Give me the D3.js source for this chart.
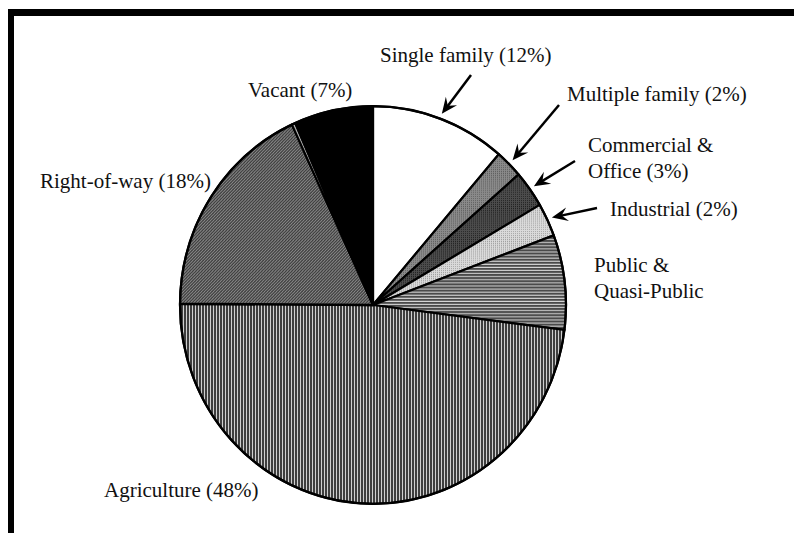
<!DOCTYPE html>
<html lang="en">
<head>
    <meta charset="UTF-8">
    <title>Land use</title>
    <script src="https://d3js.org/d3.v7.min.js"></script>
    <style>
    body{ margin: 0; background: #fff; }
    svg{ display: block; }
    text{ font-family: "Liberation Serif", "Times New Roman", serif; font-size: 21px; fill: #111; }
    </style>
</head>
<body>
    <svg width="794" height="533"></svg>
<script>
    // slice order clockwise from 12 o'clock
    const categories = ["Single family", "Multiple family", "Commercial & Office", "Industrial",
                        "Public & Quasi-Public", "Agriculture", "Right-of-way", "Other", "Vacant"]
    const values = [11.3, 2.3, 3.0, 2.7, 7.7, 48.1, 18.0, 0.3, 6.6]
    // label lines as printed
    const labels = [["Single family (12%)"], ["Multiple family (2%)"], ["Commercial &", "Office (3%)"],
                    ["Industrial (2%)"], ["Public &", "Quasi-Public"], ["Agriculture (48%)"],
                    ["Right-of-way (18%)"], [], ["Vacant (7%)"]]
    const fills = ["#fff", "url(#pMulti)", "url(#pComm)", "url(#pInd)", "url(#pPub)",
                   "url(#pAgri)", "url(#pRow)", "#aaa", "#000"]

    const svg = d3.select("svg")
    const cx = 373, cy = 305, r = 193, sy = 1.03

    // frame: top and left thick rules
    svg.append("rect").attr("x", 8).attr("y", 9).attr("width", 786).attr("height", 7).attr("fill", "#000")
    svg.append("rect").attr("x", 8).attr("y", 9).attr("width", 6).attr("height", 524).attr("fill", "#000")

    const defs = svg.append("defs")
    const pat = (id, w, h, bg, draw) => {
        const p = defs.append("pattern").attr("id", id).attr("patternUnits", "userSpaceOnUse")
            .attr("width", w).attr("height", h)
        p.append("rect").attr("width", w).attr("height", h).attr("fill", bg)
        draw(p)
    }
    pat("pAgri", 3, 3, "#cfcfcf", p => p.append("rect").attr("width", 2).attr("height", 3).attr("fill", "#3e3e3e"))
    pat("pPub", 3, 3, "#d8d8d8", p => p.append("rect").attr("width", 3).attr("height", 2).attr("fill", "#4a4a4a"))
    pat("pRow", 3, 3, "#939393", p => p.append("path").attr("d", "M0,3L3,0M-1,1L1,-1M2,4L4,2").attr("stroke", "#3c3c3c").attr("stroke-width", 1.2))
    pat("pMulti", 2, 2, "#8a8a8a", p => p.append("rect").attr("width", 1).attr("height", 1).attr("fill", "#606060"))
    pat("pComm", 2, 2, "#4c4c4c", p => p.append("rect").attr("width", 1).attr("height", 1).attr("fill", "#222"))
    pat("pInd", 2, 2, "#dadada", p => p.append("rect").attr("width", 1).attr("height", 1).attr("fill", "#a0a0a0"))

    const pie = d3.pie().sort(null).value(d => d)
    const arcs = pie(values)
    const arc = d3.arc().innerRadius(0).outerRadius(r)
    const tipArc = d3.arc().innerRadius(r + 5).outerRadius(r + 5)

    const g = svg.append("g").attr("transform", `translate(${cx},${cy}) scale(1,${sy})`)
    g.selectAll("path.slice").data(arcs).enter().append("path")
        .attr("class", "slice")
        .attr("d", arc)
        .attr("fill", (d, i) => fills[i])
        .attr("stroke", "#000")
        .attr("stroke-width", 2.2)
        .attr("stroke-linejoin", "round")
    g.append("circle").attr("r", r).attr("fill", "none").attr("stroke", "#000").attr("stroke-width", 2.2)

    // label anchor positions (left baseline of first line)
    const labelPos = [[380, 62], [567, 101], [588, 152], [610, 216], [594, 272], [104, 497], [40, 188], null, [248, 97]]
    labels.forEach((lines, i) => {
        if (!labelPos[i]) return
        const t = svg.append("text").attr("x", labelPos[i][0]).attr("y", labelPos[i][1])
        lines.forEach((s, k) => t.append("tspan").attr("x", labelPos[i][0]).attr("dy", k ? 26 : 0).text(s))
    })

    // arrows from labels to the small slices on the right
    const arrowFrom = [[471, 75], [559, 105], [575, 161], [597, 208]]
    const arrowHead = (x1, y1, x2, y2) => {
        const a = Math.atan2(y2 - y1, x2 - x1), L = 16, W = 7, b = 10
        const px = Math.cos(a), py = Math.sin(a)
        const bx = x2 - px * L, by = y2 - py * L
        const nx = x2 - px * b, ny = y2 - py * b
        return `M${x2},${y2}L${bx - py * W},${by + px * W}L${nx},${ny}L${bx + py * W},${by - px * W}Z`
    }
    arrowFrom.forEach((s, i) => {
        const c = tipArc.centroid(arcs[i])
        const tx = cx + c[0], ty = cy + c[1] * sy
        svg.append("line").attr("x1", s[0]).attr("y1", s[1]).attr("x2", tx - (tx - s[0]) * 0.1).attr("y2", ty - (ty - s[1]) * 0.1)
            .attr("stroke", "#000").attr("stroke-width", 2.5)
        svg.append("path").attr("d", arrowHead(s[0], s[1], tx, ty)).attr("fill", "#000")
    })
</script>
</body>
</html>
